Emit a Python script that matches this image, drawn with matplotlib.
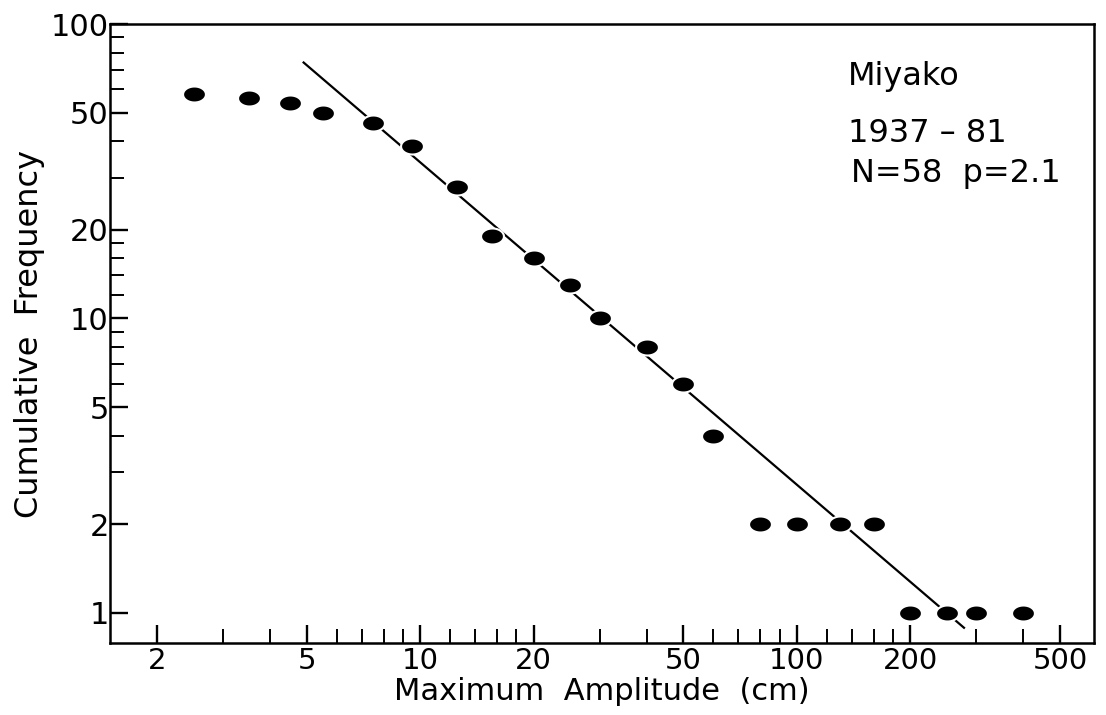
import numpy as np
import matplotlib
matplotlib.use("Agg")
import matplotlib.pyplot as plt
from matplotlib.ticker import FixedLocator, NullFormatter

# Miyako tide-gauge data, 1937-81
amplitude_cm = [2.5, 3.5, 4.5, 5.5, 7.5, 9.5, 12.5, 15.5, 20, 25, 30, 40, 50, 60,
                80, 100, 130, 160, 200, 250, 300, 400]
cum_freq = [58, 56, 54, 50, 46, 38.5, 28, 19, 16, 13, 10, 8, 6, 4,
            2, 2, 2, 2, 1, 1, 1, 1]

# fitted power-law line end points
fit_x = [4.9, 278]
fit_y = [74, 0.89]

x_major = [2, 5, 10, 20, 50, 100, 200, 500]
x_minor = [3, 4, 6, 7, 8, 9, 12, 14, 16, 18, 30, 40, 60, 70, 80, 90,
           120, 140, 160, 180, 300, 400]
y_major = [1, 2, 5, 10, 20, 50, 100]
y_minor = [3, 4, 6, 7, 8, 9, 12, 14, 16, 18, 30, 40, 60, 70, 80, 90]

plt.rcParams["font.family"] = ["DejaVu Sans"]

fig = plt.figure(figsize=(11.06, 7.15), dpi=100)
ax = fig.add_axes([0.0995, 0.1007, 0.8895, 0.8657])

ax.set_xscale("log")
ax.set_yscale("log")
ax.set_xlim(1.5, 615)
ax.set_ylim(0.79, 100)

ax.plot(fit_x, fit_y, color="black", lw=1.6, zorder=2)

# slightly flattened dots, like the original print
t = np.linspace(0, 2 * np.pi, 40)
ellipse = np.column_stack([np.cos(t), 0.7 * np.sin(t)])
ax.plot(amplitude_cm, cum_freq, linestyle="none", marker=ellipse,
        markersize=16.5, color="black", markeredgecolor="white",
        markeredgewidth=1.5, zorder=3)

ax.xaxis.set_major_locator(FixedLocator(x_major))
ax.xaxis.set_minor_locator(FixedLocator(x_minor))
ax.yaxis.set_major_locator(FixedLocator(y_major))
ax.yaxis.set_minor_locator(FixedLocator(y_minor))
ax.set_xticklabels([str(v) for v in x_major])
ax.set_yticklabels([str(v) for v in y_major])
ax.xaxis.set_minor_formatter(NullFormatter())
ax.yaxis.set_minor_formatter(NullFormatter())

ax.tick_params(which="major", direction="in", length=13, width=1.7,
               labelsize=21, pad=3, top=False, right=False)
ax.tick_params(which="minor", direction="in", length=10, width=1.4,
               top=False, right=False)
ax.tick_params(axis="y", which="major", labelsize=22, pad=1)

for s in ax.spines.values():
    s.set_linewidth(1.8)

ax.set_xlabel("Maximum  Amplitude  (cm)", fontsize=22, labelpad=1)
ax.set_ylabel("Cumulative  Frequency", fontsize=23, labelpad=4)

ax.text(0.75, 0.902, "Miyako", transform=ax.transAxes, fontsize=23,
        ha="left", va="baseline")
ax.text(0.75, 0.809, "1937 \u2013 81", transform=ax.transAxes, fontsize=23,
        ha="left", va="baseline")
ax.text(0.753, 0.745, "N=58  p=2.1", transform=ax.transAxes, fontsize=23,
        ha="left", va="baseline")

fig.savefig("out.png", dpi=100)
